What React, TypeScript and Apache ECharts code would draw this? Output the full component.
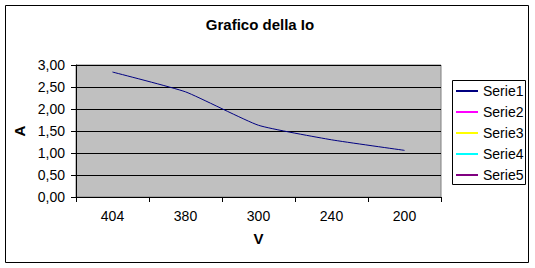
import React, { useEffect, useRef } from "react";
import * as echarts from "echarts";

const titleText = "Grafico della Io";
const categories = ["404", "380", "300", "240", "200"];
const serie1 = [2.84, 2.39, 1.63, 1.3, 1.06];
const seriesNames = ["Serie1", "Serie2", "Serie3", "Serie4", "Serie5"];
const seriesColors = ["#000080", "#FF00FF", "#FFFF00", "#00FFFF", "#800080"];
const yMin = 0;
const yMax = 3;
const yStep = 0.5;

const FONT = '"Liberation Sans", Arial, sans-serif';

export default function App() {
  const ref = useRef<HTMLDivElement>(null);
  useEffect(() => {
    if (!ref.current) return;
    const chart = echarts.init(ref.current, null, { renderer: "svg" });
    const seriesData = [serie1, [], [], [], []];
    chart.setOption({
      animation: false,
      backgroundColor: "#ffffff",
      textStyle: { fontFamily: FONT },
      grid: {
        left: 76,
        top: 65,
        width: 365,
        height: 132,
        show: true,
        backgroundColor: "#C0C0C0",
        borderColor: "#808080",
        borderWidth: 1,
      },
      graphic: [
        {
          type: "rect",
          shape: { x: 5.5, y: 5.5, width: 523, height: 257 },
          style: { fill: "none", stroke: "#000", lineWidth: 1 },
          silent: true,
        },
        {
          type: "rect",
          shape: { x: 452.5, y: 80.5, width: 73, height: 104 },
          style: { fill: "#fff", stroke: "#000", lineWidth: 1 },
          silent: true,
          z: 0,
        },
        {
          type: "text",
          x: 260,
          y: 24,
          style: {
            text: titleText,
            font: `bold 15px ${FONT}`,
            fill: "#000",
            textAlign: "center",
            textVerticalAlign: "middle",
          },
        },
      ],
      legend: {
        data: seriesNames,
        orient: "vertical",
        left: 456,
        top: 84,
        padding: 0,
        itemGap: 7,
        itemWidth: 22,
        itemHeight: 2,
        icon: "rect",
        textStyle: { fontSize: 14, color: "#000", fontFamily: FONT, lineHeight: 14 },
        z: 10,
      },
      xAxis: {
        type: "category",
        data: categories,
        boundaryGap: true,
        name: "V",
        nameLocation: "middle",
        nameGap: 34,
        nameTextStyle: { fontSize: 15, fontWeight: "bold", color: "#000" },
        axisLine: { show: true, lineStyle: { color: "#000", width: 1 } },
        axisTick: { show: true, interval: 0, length: 5, lineStyle: { color: "#000" } },
        axisLabel: { margin: 12, fontSize: 14, color: "#000" },
        splitLine: { show: false },
      },
      yAxis: {
        type: "value",
        min: yMin,
        max: yMax,
        interval: yStep,
        name: "A",
        nameLocation: "middle",
        nameGap: 43,
        nameTextStyle: { fontSize: 15, fontWeight: "bold", color: "#000" },
        axisLine: { show: true, lineStyle: { color: "#000", width: 1 } },
        axisTick: { show: true, length: 5, lineStyle: { color: "#000" } },
        axisLabel: {
          margin: 11,
          fontSize: 14,
          color: "#000",
          formatter: (v: number) => v.toFixed(2).replace(".", ","),
        },
        splitLine: { show: true, lineStyle: { color: "#000", width: 1 } },
      },
      series: seriesNames.map((name, i) => ({
        name,
        type: "line",
        data: seriesData[i],
        smooth: 0.15,
        showSymbol: false,
        symbol: "none",
        itemStyle: { color: seriesColors[i] },
        lineStyle: { color: seriesColors[i], width: 1 },
      })),
    });
    return () => chart.dispose();
  }, []);
  return (
    <div
      ref={ref}
      style={{ position: "fixed", left: 0, top: 0, width: 535, height: 268 }}
    />
  );
}
